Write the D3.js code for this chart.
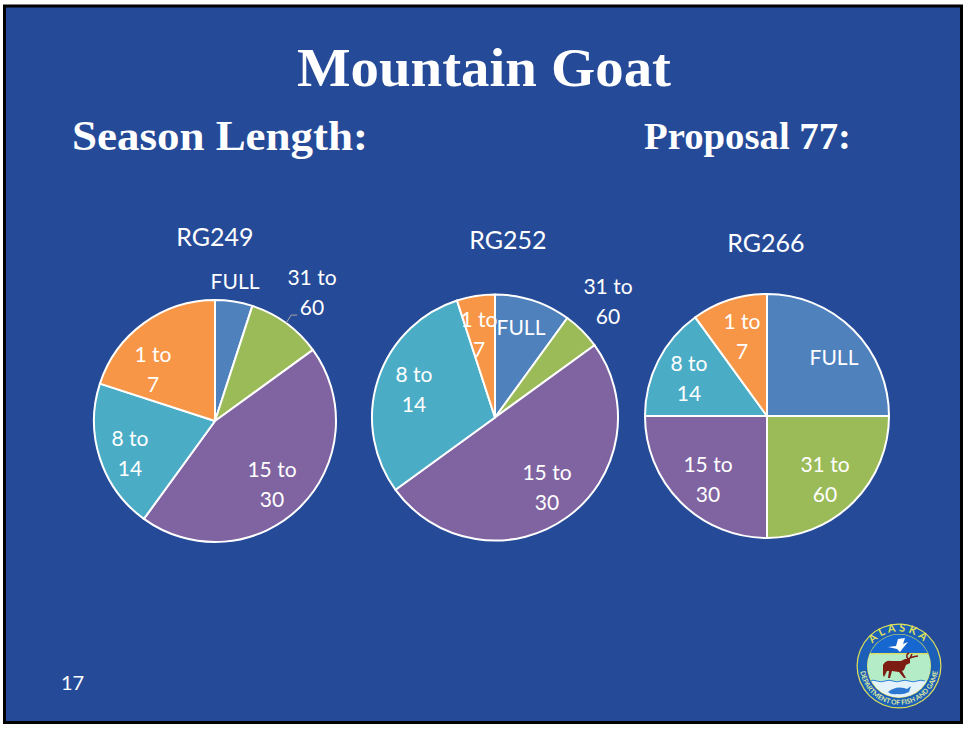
<!DOCTYPE html>
<html><head><meta charset="utf-8">
<script src="https://cdn.jsdelivr.net/npm/d3@7"></script>
<style>
html,body{margin:0;padding:0;background:#fff}
svg{display:block}
text{font-family:Lato,"Open Sans",sans-serif;fill:#fff}
.serif{font-family:"Liberation Serif",serif;font-weight:700}
</style></head><body>
<script>
// ---- data (percent of each pie) ----
const categories = ["FULL", "31 to 60", "15 to 30", "8 to 14", "1 to 7"];
const pieNames = ["RG249", "RG252", "RG266"];
const valuesRG249 = [5, 10, 45, 20, 20];
const valuesRG252 = [10, 5, 50, 30, 5];
const valuesRG266 = [25, 25, 25, 15, 10];
const headingTitle = "Mountain Goat";
const headingLeft = "Season Length:";
const headingRight = "Proposal 77:";
const pageNumber = "17";

// ---- layout, kept apart from the data ----
const W = 965, H = 729;
const colors = ["#4f81bd", "#9bbb59", "#8064a2", "#4bacc6", "#f79646"];
const layouts = [
  {cx:215, cy:421, r:121, titleY:246, titleX:215,
   labels:[[20,-139],[97,-128],[57,64],[-85,33],[-62,-51]], leader:1},
  {cx:495, cy:417.5, r:123, titleY:249, titleX:508,
   labels:[[26,-89.5],[113,-115.5],[52,70.5],[-81,-27.5],[-16,-82.5]]},
  {cx:767, cy:416, r:122, titleY:252, titleX:766,
   labels:[[67,-58],[58,64],[-59,64],[-78,-37],[-25,-79]]}
];
const pieValues = [valuesRG249, valuesRG252, valuesRG266];

const svg = d3.select("body").append("svg").attr("width", W).attr("height", H);

// slide
svg.append("rect").attr("x",4.5).attr("y",6).attr("width",957).attr("height",716.5)
  .attr("fill","#254a98").attr("stroke","#000").attr("stroke-width",3);

// headings
svg.append("text").attr("class","serif").attr("x",484).attr("y",86)
  .attr("text-anchor","middle").attr("font-size",55).attr("textLength",374).attr("lengthAdjust","spacingAndGlyphs").text(headingTitle);
svg.append("text").attr("class","serif").attr("x",72).attr("y",150)
  .attr("font-size",43).attr("textLength",296).attr("lengthAdjust","spacingAndGlyphs").text(headingLeft);
svg.append("text").attr("class","serif").attr("x",644).attr("y",149)
  .attr("font-size",38).attr("textLength",207).attr("lengthAdjust","spacingAndGlyphs").text(headingRight);
svg.append("text").attr("x",61).attr("y",690).attr("font-size",20).text(pageNumber);

// pies
const pie = d3.pie().sort(null).startAngle(0).endAngle(2*Math.PI);
layouts.forEach((L, i) => {
  const g = svg.append("g").attr("transform",`translate(${L.cx},${L.cy})`);
  const arc = d3.arc().innerRadius(0).outerRadius(L.r);
  const arcs = pie(pieValues[i]);
  g.selectAll("path.slice").data(arcs).join("path").attr("class","slice")
    .attr("d",arc).attr("fill",(d,j)=>colors[j])
    .attr("stroke","#fff").attr("stroke-width",2).attr("stroke-linejoin","round");
  if (L.leader !== undefined) {
    const a = arcs[L.leader], m = (a.startAngle + a.endAngle)/2;
    const x = L.r*Math.sin(m), y = -L.r*Math.cos(m);
    g.append("path").attr("d",`M${x},${y}l5,-8h6`).attr("fill","none")
      .attr("stroke","#a6a6a6").attr("stroke-width",1);
  }
  svg.append("text").attr("x",L.titleX).attr("y",L.titleY).attr("text-anchor","middle")
    .attr("font-size",25).text(pieNames[i]);
  categories.forEach((c,j) => {
    const [dx,dy] = L.labels[j];
    const parts = c === "FULL" ? [c] : [c.slice(0,c.lastIndexOf(" ")), c.slice(c.lastIndexOf(" ")+1)];
    const t = g.append("text").attr("text-anchor","middle").attr("font-size",21);
    parts.forEach((p,k) => t.append("tspan").attr("x",dx)
      .attr("y",dy + 7 + (k - (parts.length-1)/2)*29.5).text(p));
  });
});

// seal
const S = svg.append("g").attr("transform","translate(899,666)");
const defs = svg.append("defs");
defs.append("clipPath").attr("id","inner").append("circle").attr("r",31.5);
S.append("circle").attr("r",42.5).attr("fill","#dfe05a");
S.append("circle").attr("r",41.3).attr("fill","#1c5fb8");
S.append("circle").attr("r",32).attr("fill","#dfe05a");
const I = S.append("g").attr("clip-path","url(#inner)");
I.append("rect").attr("x",-32).attr("y",-32).attr("width",64).attr("height",20).attr("fill","#1668d0");
I.append("rect").attr("x",-32).attr("y",-13).attr("width",64).attr("height",1.4).attr("fill","#dfe05a");
I.append("rect").attr("x",-32).attr("y",-11.6).attr("width",64).attr("height",26.5).attr("fill","#b4ecc8");
I.append("rect").attr("x",-32).attr("y",14.9).attr("width",64).attr("height",18).attr("fill","#e4f2fb");
I.append("path").attr("d","M-30,15q4,-1.6 8,0t8,0t8,0t8,0t8,0t8,0t8,0").attr("fill","none").attr("stroke","#2f7fd8").attr("stroke-width",1);
// bird
I.append("path").attr("d","M-11,-19L-3,-20L-1,-27L6,-28L4,-22L9,-24L4,-18L1,-14L-2,-17Z").attr("fill","#fff");
// caribou
I.append("path").attr("d","M-16,-1Q-13,-6 -8,-5L2,-5L6,-7L11,-7L11,-3L7,-1L5,4L3,5L7,12L5,12L0,6L-7,5L-9,12L-11,12L-10,5L-12,5L-15,11L-16,9Z").attr("fill","#7c1c12");
I.append("path").attr("d","M9,-7Q6,-11 10,-13M9,-7Q12,-9 19,-10M11,-8L13,-12").attr("fill","none").attr("stroke","#7c1c12").attr("stroke-width",1.5);
// fish
I.append("path").attr("d","M-11,26Q-4,20 5,22L8,23L12,20L11,23L10,26Q4,29 -2,28Q-8,29 -11,26Z").attr("fill","#2c78d0");
// ring text
defs.append("path").attr("id","ringTop").attr("d","M-34.5,0A34.5,34.5 0 0 1 34.5,0");
defs.append("path").attr("id","ringBot").attr("d","M-38.7,-5A39,39 0 1 0 38.7,-5");
S.append("text").attr("font-size",11).attr("font-weight",700).attr("letter-spacing",3).attr("style","fill:#dfe05a")
  .append("textPath").attr("href","#ringTop").attr("startOffset","50%").attr("text-anchor","middle").text("ALASKA");
S.append("text").attr("font-size",6.8).attr("font-weight",700).attr("style","fill:#dfe8a0")
  .append("textPath").attr("href","#ringBot").attr("startOffset","50%").attr("text-anchor","middle").text("DEPARTMENT OF FISH AND GAME");
</script>
</body></html>
